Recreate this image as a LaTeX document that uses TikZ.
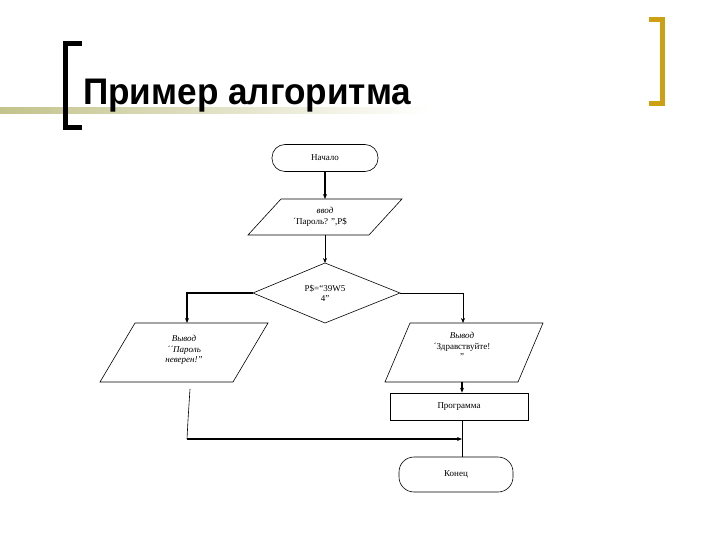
\documentclass[tikz,border=0pt]{standalone}
\usepackage{fontspec}
\setmainfont{Liberation Serif}
\newfontfamily\titlefont{Liberation Sans}
\usetikzlibrary{arrows.meta}
\definecolor{gold}{RGB}{205,160,20}
\definecolor{olive}{RGB}{195,195,140}
\begin{document}
\begin{tikzpicture}[x=1pt,y=-1pt,
  shp/.style={draw=black,line width=0.6pt,fill=white},
  txt/.style={font=\fontsize{9}{10.5}\selectfont,align=center,inner sep=0pt},
  conn/.style={line width=0.6pt,-{Stealth[length=5pt,width=4pt]}},
  thick conn/.style={line width=1.3pt,-{Stealth[length=5pt,width=4pt]}}]
\useasboundingbox[fill=white] (0,0) rectangle (720,540);
% header
\shade[left color=olive,right color=white] (0,108) rectangle (430,114);
\draw[line width=5pt,line cap=butt] (82,44) -- (65,44) -- (65,128) -- (82,128);
\draw[gold,line width=5pt] (649,20) -- (662,20) -- (662,104) -- (649,104);
\node[anchor=base west,inner sep=0pt,font=\titlefont\bfseries\fontsize{37}{40}\selectfont,xscale=0.95] (title) at (83,105) {Пример алгоритма};
% start
\node[shp,rounded corners=13pt,minimum width=106pt,minimum height=27pt,txt] (start) at (325,158) {Начало};
% input
\draw[shp] (281,199) -- (402,199) -- (369,235) -- (248,235) -- cycle;
\node[txt] (inp) at (325,217) {\itshape ввод\\ \hspace*{-10pt}´Пароль? ”,P\$};
\coordinate (inpT) at (325,199); \coordinate (inpB) at (325,235);
% decision
\draw[shp] (325,263) -- (400,293) -- (325,323) -- (253,293) -- cycle;
\node[txt] (dec) at (325,293) {P\$=“39W5\\4”};
\coordinate (decT) at (325,263); \coordinate (decL) at (253,293); \coordinate (decR) at (400,293);
% left output
\draw[shp] (135,323) -- (268,323) -- (233,382) -- (100,382) -- cycle;
\node[txt] (outL) at (184,350) {\itshape Вывод\\ \itshape ´´Пароль\\ \itshape неверен!”};
\coordinate (outLT) at (187,323);
% right output
\draw[shp] (410,323) -- (543,323) -- (518,382) -- (385,382) -- cycle;
\node[txt] (outR) at (462,346) {\itshape Вывод\\ ´Здравствуйте!\\ ”};
\coordinate (outRT) at (463,323); \coordinate (outRB) at (462,382);
% program
\node[shp,minimum width=138pt,minimum height=27pt,txt] (prog) at (459,406.5) {Программа};
% end
\node[shp,rounded corners=15pt,minimum width=114pt,minimum height=35pt,txt] (end) at (456,474.5) {Конец};
% connectors
\draw[thick conn] (start.south) -- (inpT);
\draw[conn] (inpB) -- (decT);
\draw[thick conn] (decL) -| (outLT);
\draw[conn] (decR) -| (outRT);
\draw[thick conn] (outRB) -- (prog.north -| outRB);
\coordinate (lstart) at (190,389); \coordinate (lknee) at (187,439);
\coordinate (merge) at (462,439);
\draw[line width=0.6pt] (lstart) -- (188,420) -- (lknee);
\draw[thick conn] (lknee) -- (merge);
\draw[line width=0.6pt] (prog.south -| merge) -- (end.north -| merge);
\end{tikzpicture}
\end{document}
